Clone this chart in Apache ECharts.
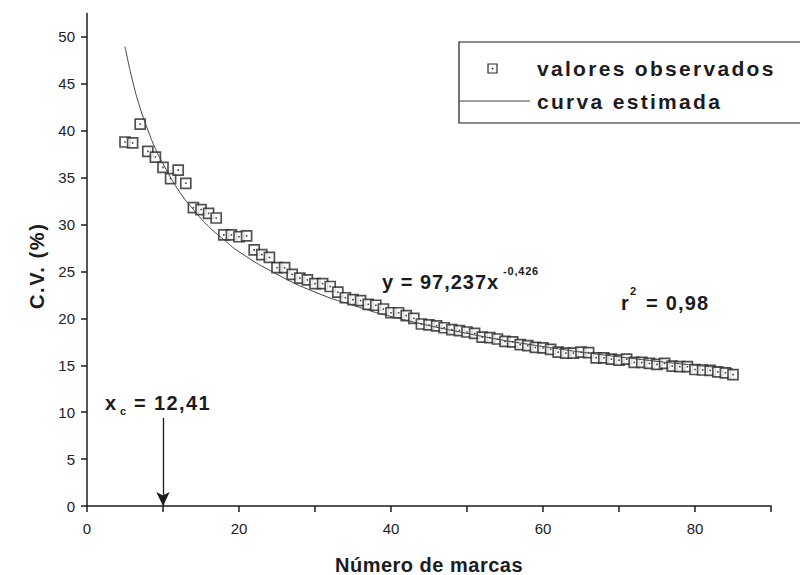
<!DOCTYPE html>
<html><head><meta charset="utf-8">
<script src="https://cdn.jsdelivr.net/npm/echarts@6/dist/echarts.min.js"></script>
<style>html,body{margin:0;padding:0;background:#fff}#c{width:800px;height:575px}</style>
</head><body><div id="c"></div>
<script>
// ---- data ----
const obsX = [5,6,7,8,9,10,11,12,13,14,15,16,17,18,19,20,21,22,23,24,25,26,27,28,29,30,31,32,33,34,35,36,37,38,39,40,41,42,43,44,45,46,47,48,49,50,51,52,53,54,55,56,57,58,59,60,61,62,63,64,65,66,67,68,69,70,71,72,73,74,75,76,77,78,79,80,81,82,83,84,85];
const obsY = [38.8,38.7,40.7,37.8,37.2,36.1,34.9,35.8,34.4,31.8,31.6,31.2,30.7,28.9,28.9,28.7,28.8,27.3,26.8,26.5,25.4,25.4,24.7,24.3,24.1,23.7,23.7,23.4,22.8,22.2,22.0,21.9,21.5,21.4,21.0,20.6,20.6,20.3,20.0,19.4,19.3,19.2,19.0,18.8,18.7,18.55,18.4,18.0,17.95,17.8,17.55,17.5,17.2,17.1,16.9,16.85,16.7,16.4,16.3,16.3,16.4,16.35,15.8,15.8,15.65,15.55,15.65,15.3,15.3,15.2,15.1,15.2,14.9,14.85,14.85,14.55,14.5,14.45,14.3,14.2,14.0];
const curveX = [5,6,7,8,9,10,12,14,16,18,20,25,30,35,40,50,60,70,80,85];
const curveY = [48.98,45.3,42.4,40.1,38.1,36.5,33.7,31.6,29.8,28.4,27.1,24.7,22.8,21.4,20.2,18.4,17.0,15.9,15.0,14.65];
const xTickValues = [0,10,20,30,40,50,60,70,80,90];
const xLabelValues = [0,20,40,60,80];
const yTickValues = [0,5,10,15,20,25,30,35,40,45,50];
const arrowX = 10, arrowTop = 9.4;
const legendNames = ['valores observados','curva estimada'];

const FONT = '"Liberation Sans", Arial, sans-serif';
const INK = '#1c1c1c';
const obs = obsX.map((x,i)=>[x,obsY[i]]);
const curve = curveX.map((x,i)=>[x,curveY[i]]);

const chart = echarts.init(document.getElementById('c'), null, {renderer:'svg', width:800, height:575});
const bold = (s)=>({fontSize:s, fontWeight:'bold', fontFamily:FONT, fill:INK});
chart.setOption({
  animation:false,
  backgroundColor:'#fff',
  grid:{left:87, right:29, top:13.5, bottom:69, containLabel:false, outerBoundsMode:'none'},
  xAxis:{type:'value', min:0, max:90, interval:10,
    axisLine:{onZero:false, lineStyle:{color:INK, width:1.5}},
    axisTick:{length:6, customValues:xTickValues, lineStyle:{color:INK, width:1.5}},
    axisLabel:{margin:15, fontSize:15, color:'#222', fontFamily:FONT, customValues:xLabelValues},
    splitLine:{show:false},
    name:'Número de marcas', nameLocation:'middle', nameGap:49,
    nameTextStyle:{fontSize:20, fontWeight:'bold', color:INK, fontFamily:FONT}},
  yAxis:{type:'value', min:0, max:52.5, interval:5,
    axisLine:{onZero:false, lineStyle:{color:INK, width:1.5}},
    axisTick:{length:6, customValues:yTickValues, lineStyle:{color:INK, width:1.5}},
    axisLabel:{margin:12, fontSize:15, color:'#222', fontFamily:FONT, customValues:yTickValues},
    splitLine:{show:false},
    name:'C.V. (%)', nameLocation:'middle', nameGap:39, nameRotate:90,
    nameTextStyle:{fontSize:20, fontWeight:'bold', color:INK, fontFamily:FONT, padding:[0,12,0,0]}},
  series:[
    {name:legendNames[0], type:'scatter', data:obs, symbol:'rect', symbolSize:10,
     itemStyle:{color:'#fff', borderColor:'#262626', borderWidth:1.7}, z:2},
    {type:'scatter', data:obs, symbol:'rect', symbolSize:1.6, itemStyle:{color:'#111'}, z:3, silent:true},
    {name:legendNames[1], type:'line', data:curve, smooth:true, showSymbol:false,
     lineStyle:{color:'#444', width:1}, z:4,
     markLine:{silent:true, symbol:['none','arrow'], symbolSize:[10,14], label:{show:false},
       lineStyle:{color:INK, width:1.3, type:'solid'},
       data:[[{coord:[arrowX,arrowTop]},{coord:[arrowX,0]}]]}}
  ],
  graphic:[
    {type:'rect', shape:{x:459, y:42, width:400, height:81}, style:{fill:'none', stroke:INK, lineWidth:1.2}, silent:true},
    {type:'rect', shape:{x:488, y:64, width:9, height:9}, style:{fill:'#fff', stroke:'#2a2a2a', lineWidth:1.2}},
    {type:'rect', shape:{x:491.8, y:67.8, width:1.5, height:1.5}, style:{fill:'#111'}},
    {type:'line', shape:{x1:459, y1:101, x2:530, y2:101}, style:{stroke:'#444', lineWidth:1}},
    {type:'text', x:537, y:68, style:Object.assign({text:legendNames[0], verticalAlign:'middle'}, bold(21))},
    {type:'text', x:537, y:101, style:Object.assign({text:legendNames[1], verticalAlign:'middle'}, bold(21))},
    {type:'text', x:382, y:282, style:Object.assign({text:'y = 97,237x', verticalAlign:'middle'}, bold(20))},
    {type:'text', x:503, y:271, style:Object.assign({text:'-0,426', verticalAlign:'middle'}, bold(11))},
    {type:'text', x:621, y:303, style:Object.assign({text:'r', verticalAlign:'middle'}, bold(20))},
    {type:'text', x:630, y:291, style:Object.assign({text:'2', verticalAlign:'middle'}, bold(11))},
    {type:'text', x:646, y:303, style:Object.assign({text:'= 0,98', verticalAlign:'middle'}, bold(20))},
    {type:'text', x:105, y:403, style:Object.assign({text:'x', verticalAlign:'middle'}, bold(20))},
    {type:'text', x:120, y:411, style:Object.assign({text:'c', verticalAlign:'middle'}, bold(11))},
    {type:'text', x:134, y:403, style:Object.assign({text:'= 12,41', verticalAlign:'middle'}, bold(20))}
  ]
});
// letter-spacing tweak for the tracked bold captions
const spacing = {'valores observados':2.3,'curva estimada':2.3,'y = 97,237x':1.0,'= 0,98':1.2,'= 12,41':1.4,'C.V. (%)':1.6,'Número de marcas':0.5,'-0,426':0.8};
document.querySelectorAll('#c text').forEach(t=>{
  const s = spacing[t.textContent];
  if (s) t.style.letterSpacing = s + 'px';
});
</script>
</body></html>
